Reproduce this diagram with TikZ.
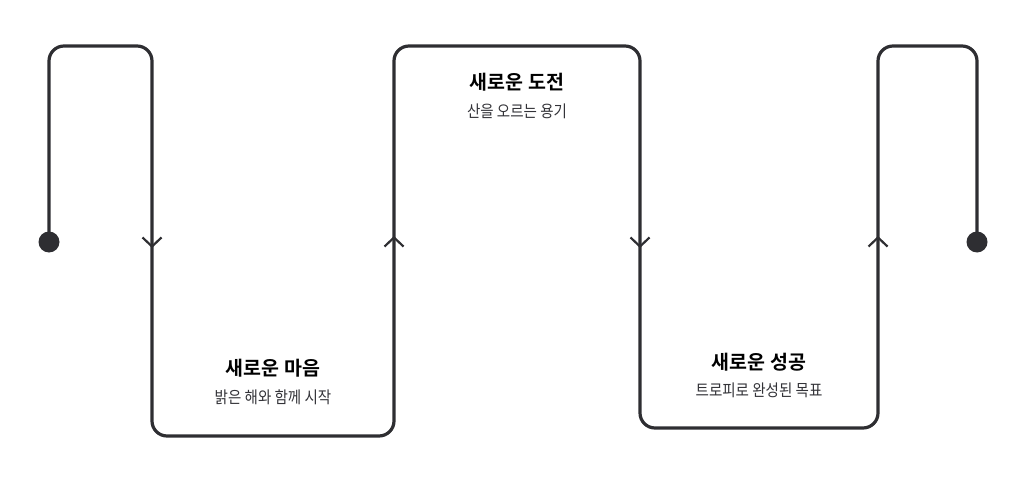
\documentclass[tikz,border=0pt]{standalone}
\usepackage{fontspec}
\setmainfont{Noto Sans CJK KR}[BoldFont={Noto Sans CJK KR Bold}]
\newfontfamily\narrowkr{Noto Sans CJK KR}[FakeStretch=0.88]
\usetikzlibrary{arrows.meta}
\definecolor{linegray}{HTML}{2E2E32}
\definecolor{subgray}{HTML}{333338}

\begin{document}
\begin{tikzpicture}
  [x=1pt,y=-1pt,
   every node/.style={inner sep=0pt},
   track/.style={draw=linegray,line width=3.2pt,rounded corners=15pt},
   chevron/.style={draw=linegray,line width=2.2pt,-{Straight Barb[length=9pt,width=19pt]}},
   endpoint/.style={circle,fill=linegray,minimum size=21pt},
   title/.style={font=\bfseries\fontsize{19.5}{22}\selectfont,text=black},
   subtitle/.style={font=\narrowkr\fontsize{16.5}{19}\selectfont,text=subgray}]
  \useasboundingbox (0,0) rectangle (1024,478);
  % corner points of the track
  \coordinate (c1) at (49,46);
  \coordinate (c2) at (152,46);
  \coordinate (c3) at (152,436);
  \coordinate (c4) at (394,436);
  \coordinate (c5) at (394,46);
  \coordinate (c6) at (640,46);
  \coordinate (c7) at (640,428);
  \coordinate (c8) at (878,428);
  \coordinate (c9) at (878,46);
  \coordinate (c10) at (977,46);
  \node[endpoint] (start) at (49,242) {};
  \node[endpoint] (finish) at (977,242) {};
  \draw[track] (start.center) -- (c1) -- (c2) -- (c3) -- (c4) -- (c5) -- (c6)
    -- (c7) -- (c8) -- (c9) -- (c10) -- (finish.center);
  % direction marks
  \foreach \name/\x/\from/\to in {a1/152/228/248,a2/394/252/236,a3/640/228/248,a4/878/252/236}{
    \coordinate (\name s) at (\x,\from);
    \coordinate (\name e) at (\x,\to);
    \draw[chevron] (\name s) -- (\name e);
  }
  % labels
  \node[title] (t1) at (273,368) {새로운 마음};
  \node[subtitle] (s1) at (273,397) {밝은 해와 함께 시작};
  \node[title] (t2) at (517,82) {새로운 도전};
  \node[subtitle] (s2) at (517,111) {산을 오르는 용기};
  \node[title] (t3) at (759,362) {새로운 성공};
  \node[subtitle] (s3) at (759,390) {트로피로 완성된 목표};
\end{tikzpicture}
\end{document}
